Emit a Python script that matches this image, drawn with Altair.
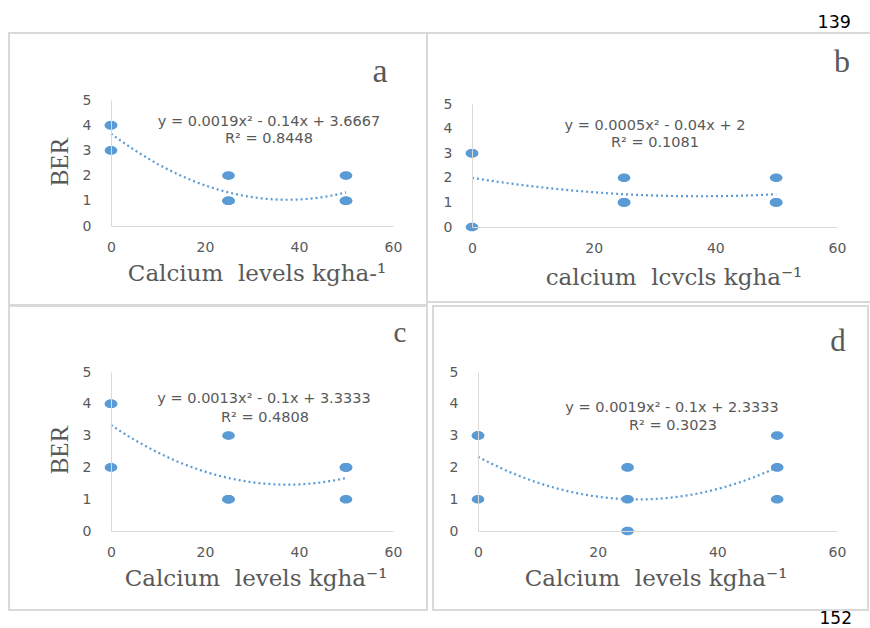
import altair as alt
import pandas as pd

# ---------------- data ----------------
calcium_levels = [0, 0, 0, 25, 25, 25, 50, 50, 50]
ber_a = [4, 4, 3, 2, 1, 1, 2, 1, 1]
ber_b = [3, 3, 0, 2, 1, 1, 2, 1, 1]
ber_c = [4, 4, 2, 3, 1, 1, 2, 2, 1]
ber_d = [3, 3, 1, 2, 1, 0, 3, 2, 1]
x_ticks = [0, 20, 40, 60]
y_ticks = [0, 1, 2, 3, 4, 5]
panel_letters = ["a", "b", "c", "d"]
equations = [
    "y = 0.0019x² - 0.14x + 3.6667",
    "y = 0.0005x² - 0.04x + 2",
    "y = 0.0013x² - 0.1x + 3.3333",
    "y = 0.0019x² - 0.1x + 2.3333",
]
r_squared = ["R² = 0.8448", "R² = 0.1081", "R² = 0.4808", "R² = 0.3023"]
x_titles = [
    "Calcium\u00a0 levels kgha-¹",
    "calcium\u00a0 lcvcls kgha⁻¹",
    "Calcium\u00a0 levels kgha⁻¹",
    "Calcium\u00a0 levels kgha⁻¹",
]
y_title = "BER"
page_numbers = ["139", "152"]

# ---------------- styling / layout ----------------
W, H = 870, 628
BLUE = "#5B9BD5"
GREY = "#595959"
FRAME = "#D9D9D9"
ELLIPSE = "M-1,0A1,0.68,0,1,0,1,0A1,0.68,0,1,0,-1,0Z"

layout = [
    dict(frame=(9, 427, 33, 305), xr=[111, 393], yr=[226, 100], letter=(380, 82, 34),
         eq=(269, 126), r2=(269, 143), xt=(257, 281), yt=(68, 162)),
    dict(frame=(427, 880, 33, 302), xr=[472, 837], yr=[227, 104], letter=(842, 72, 32),
         eq=(655, 130), r2=(655, 147), xt=(674, 285), yt=None),
    dict(frame=(9, 427, 306, 610), xr=[111, 393], yr=[531, 372], letter=(400, 342, 29),
         eq=(264, 403), r2=(265, 422), xt=(256, 586), yt=(68, 450)),
    dict(frame=(433, 868, 306, 610), xr=[478, 837], yr=[531, 372], letter=(838, 351, 31),
         eq=(672, 412), r2=(673, 430), xt=(656, 586), yt=None),
]
series = [ber_a, ber_b, ber_c, ber_d]


def text_layer(txt, x, y, size, font, color=GREY, align="center", angle=0):
    return alt.Chart().mark_text(
        text=txt, font=font, fontSize=size, color=color, align=align,
        baseline="alphabetic", angle=angle,
    ).encode(x=alt.value(x), y=alt.value(y))


def frame_layer(x1, x2, y1, y2):
    return alt.Chart().mark_rect(
        fill="white", stroke=FRAME, strokeWidth=2
    ).encode(x=alt.value(x1), x2=alt.value(x2), y=alt.value(y1), y2=alt.value(y2))


def panel_layer(ber, xr, yr):
    df = pd.DataFrame({"calcium": calcium_levels, "ber": ber})
    xs = alt.Scale(domain=[0, 60], range=xr, nice=False, zero=False)
    ys = alt.Scale(domain=[0, 5], range=yr, nice=False, zero=False)
    common = dict(title=None, grid=False, ticks=False, tickSize=0, domainColor=FRAME,
                  domainWidth=1, labelColor=GREY, labelFont="DejaVu Sans",
                  labelFontSize=14, zindex=1, labelFlush=False, labelOverlap=False)
    xa = alt.Axis(orient="bottom", offset=yr[0] - H, values=x_ticks, labelPadding=14, **common)
    ya = alt.Axis(orient="left", offset=-xr[0], values=y_ticks, labelPadding=20, **common)
    enc = dict(x=alt.X("calcium:Q", scale=xs, axis=xa), y=alt.Y("ber:Q", scale=ys, axis=ya))
    base = alt.Chart(df)
    trend = base.transform_regression(
        "calcium", "ber", method="poly", order=2, extent=[0, 50]
    ).mark_line(color=BLUE, strokeWidth=2.2, strokeDash=[2, 3]).encode(**enc)
    pts = base.mark_point(
        shape=ELLIPSE, filled=True, size=160, color=BLUE, opacity=1, strokeWidth=0
    ).encode(**enc)
    return alt.layer(trend, pts)


layers = []
for p in layout:
    layers.append(frame_layer(*p["frame"]))

for i, p in enumerate(layout):
    layers.append(panel_layer(series[i], p["xr"], p["yr"]))
    lx, ly, ls = p["letter"]
    layers.append(text_layer(panel_letters[i], lx, ly, ls, "Liberation Serif"))
    layers.append(text_layer(equations[i], p["eq"][0], p["eq"][1], 14.5, "DejaVu Sans"))
    layers.append(text_layer(r_squared[i], p["r2"][0], p["r2"][1], 14.5, "DejaVu Sans"))
    layers.append(text_layer(x_titles[i], p["xt"][0], p["xt"][1], 23, "DejaVu Serif"))
    if p["yt"] is not None:
        layers.append(text_layer(y_title, p["yt"][0], p["yt"][1], 25, "Liberation Serif", angle=270))

layers.append(text_layer(page_numbers[0], 851, 28, 17.5, "DejaVu Sans", color="black", align="right"))
layers.append(text_layer(page_numbers[1], 852, 624, 17, "DejaVu Sans", color="black", align="right"))

chart = alt.layer(*layers).resolve_scale(
    x="independent", y="independent"
).properties(
    width=W, height=H, padding=0,
    autosize=alt.AutoSizeParams(type="none"),
    background="white",
).configure_view(stroke=None)

chart.save("out.html", embed_options={"renderer": "svg", "actions": False})
